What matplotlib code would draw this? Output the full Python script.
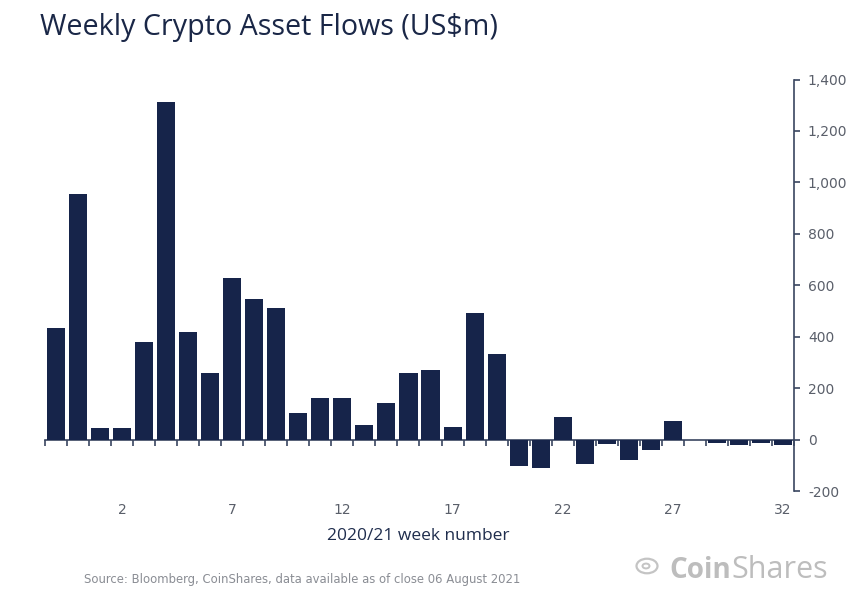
import matplotlib
matplotlib.use("Agg")
import matplotlib.pyplot as plt
import numpy as np
from matplotlib.patches import Circle

weeks = ['52', '53'] + [str(i) for i in range(1, 33)]
flows = [434, 954, 45, 45, 379, 1313, 420, 258, 628, 548, 513, 104, 160, 160,
         58, 144, 260, 272, 47, 494, 331, -104, -110, 88, -94, -17, -78, -42,
         73, -3, -15, -20, -15, -20]
shown_ticks = ['2', '7', '12', '17', '22', '27', '32']
y_ticks = [-200, 0, 200, 400, 600, 800, 1000, 1200, 1400]

BAR = '#16244a'
AXC = '#3a4660'
TXT = '#5a5f6a'

W, H = 867, 601
fig = plt.figure(figsize=(W / 100, H / 100), dpi=100)
left, right, top, bottom = 45, 794, 79.5, 491
ax = fig.add_axes([left / W, 1 - bottom / H, (right - left) / W, (bottom - top) / H])

x = np.arange(len(weeks))
ax.bar(x, flows, width=0.82, color=BAR, zorder=3)
ax.set_xlim(-0.5, len(weeks) - 0.5)
ax.set_ylim(-200, 1400)

for s in ['top', 'left']:
    ax.spines[s].set_visible(False)
ax.spines['right'].set_color(AXC)
ax.spines['right'].set_linewidth(1.2)
ax.spines['bottom'].set_position(('data', 0))
ax.spines['bottom'].set_color(AXC)
ax.spines['bottom'].set_linewidth(1.2)

ax.yaxis.tick_right()
ax.set_yticks(y_ticks)
ax.set_yticklabels([f'{v:,}' for v in y_ticks])
ax.tick_params(axis='y', direction='out', length=4, width=1.2, color=AXC,
               labelcolor=TXT, labelsize=10, pad=6)

pos = [weeks.index(t) for t in shown_ticks]
ax.set_xticks(pos)
ax.set_xticklabels(shown_ticks)
ax.tick_params(axis='x', which='major', length=0, pad=46, labelcolor=TXT, labelsize=10)
ax.set_xticks(np.arange(len(weeks) + 1) - 0.5, minor=True)
ax.tick_params(axis='x', which='minor', direction='out', length=4, width=1.2, color=AXC)

fig.text(418 / W, 1 - 536 / H, '2020/21 week number', ha='center', va='center',
         color='#1f2d4d', fontsize=12.5, family='Open Sans')

fig.text(40 / W, 1 - 27 / H, 'Weekly Crypto Asset Flows (US$m)', ha='left', va='center',
         color='#1a2747', fontsize=20.6, family='Open Sans')

fig.text(84 / W, 1 - 579 / H,
         'Source: Bloomberg, CoinShares, data available as of close 06 August 2021',
         ha='left', va='center', color='#8a8d94', fontsize=8.35,
         family='DejaVu Sans')

LOGO = '#bdbdbd'
t1 = fig.text(669 / W, 1 - 570 / H, 'Coin', ha='left', va='center', color=LOGO,
              fontsize=20, fontweight='bold', family='Open Sans')
fig.canvas.draw()
bb = t1.get_window_extent()
fig.text((bb.x1 + 1) / W, 1 - 570 / H, 'Shares', ha='left', va='center', color=LOGO,
         fontsize=22, family='Open Sans')
fig.patches.append(Circle((647 / W, 1 - 566 / H), 10.5 / W, transform=fig.transFigure,
                          fill=False, ec='#c4c4c4', lw=1.6))
fig.patches.append(Circle((646 / W, 1 - 566 / H), 3.5 / W, transform=fig.transFigure,
                          fill=False, ec='#c4c4c4', lw=1.4))

fig.savefig('out.png', dpi=100)
